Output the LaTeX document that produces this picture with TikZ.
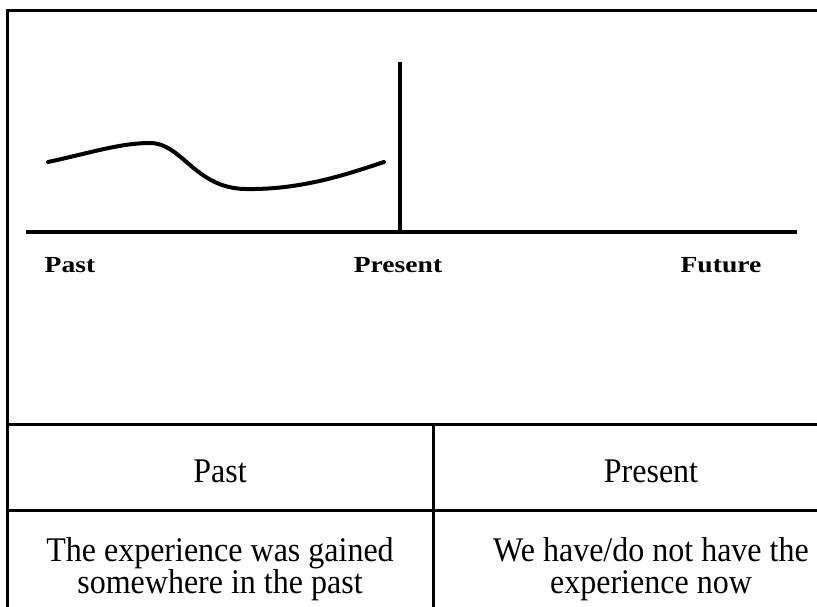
\documentclass[tikz,border=0pt]{standalone}
\usepackage{fontspec}
\setmainfont{Liberation Serif}
\newcommand{\widetxt}[1]{\scalebox{1.2}[1.0]{#1}}
\newcommand{\talltxt}[1]{\scalebox{1}[1.08]{#1}}
\begin{document}
\begin{tikzpicture}[x=1pt,y=-1pt,
  tline/.style={line width=3pt},
  axisline/.style={line width=4pt},
  curveline/.style={line width=4pt, line cap=round},
  toplbl/.style={font=\fontsize{23}{24}\selectfont\bfseries, anchor=base, inner sep=0pt},
  celltext/.style={font=\fontsize{32}{32}\selectfont, align=center, inner sep=0pt}]
\clip (0,0) rectangle (817,607);
\fill[white] (0,0) rectangle (817,607);
% frame and table lines
\draw[tline] (7.5,11) rectangle (900,700);
\draw[tline] (7.5,424) -- (900,424);
\draw[tline] (7.5,510) -- (900,510);
\draw[tline] (433,424) -- (433,700);
% timeline
\coordinate (axL) at (26,232);
\coordinate (axR) at (797,232);
\coordinate (vTop) at (400,62);
\coordinate (vBot) at (400,232);
\draw[axisline] (axL) -- (axR);
\draw[axisline] (vTop) -- (vBot);
\coordinate (c0) at (48,162);
\coordinate (c1) at (150,143);
\coordinate (c2) at (245,189);
\coordinate (c3) at (384,162);
\draw[curveline] (c0) .. controls (90,153) and (120,143) .. (c1)
  .. controls (182,143) and (195,188) .. (c2)
  .. controls (300,190) and (345,175) .. (c3);
% labels
\node[toplbl] (lpast) at (70,272) {\widetxt{Past}};
\node[toplbl] (lpresent) at (398,272) {\widetxt{Present}};
\node[toplbl] (lfuture) at (721,272) {\widetxt{Future}};
% table text
\node[celltext, anchor=base] (hpast) at (220,482) {\talltxt{Past}};
\node[celltext, anchor=base] (hpresent) at (651,482) {\talltxt{Present}};
\node[celltext] (tpast) at (220,569) {\talltxt{The experience was gained}\\\talltxt{somewhere in the past}};
\node[celltext] (tpresent) at (651,569) {\talltxt{We have/do not have the}\\\talltxt{experience now}};
\end{tikzpicture}
\end{document}
